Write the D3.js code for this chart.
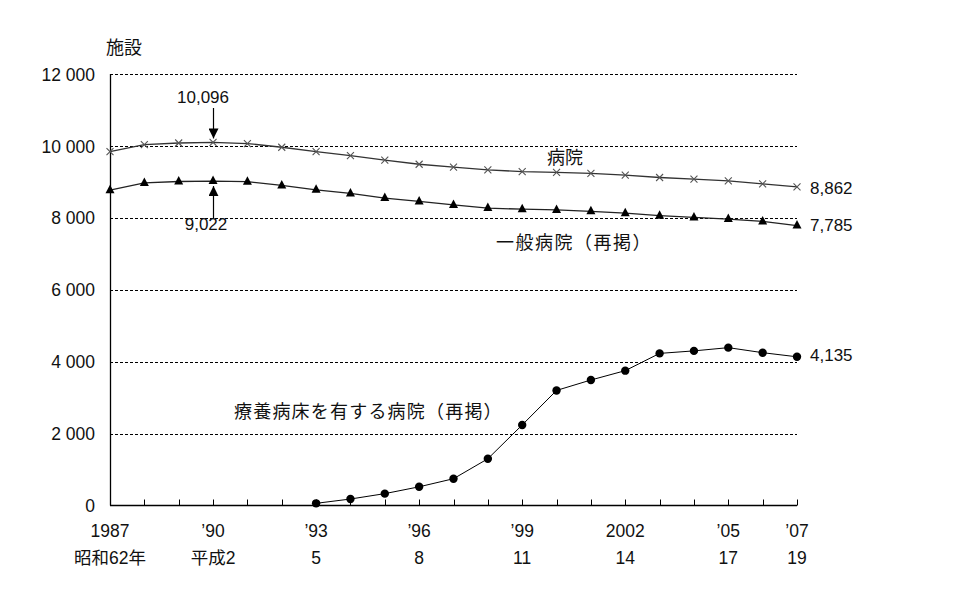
<!DOCTYPE html>
<html><head><meta charset="utf-8">
<script src="https://cdn.jsdelivr.net/npm/d3@7/dist/d3.min.js"></script>
<style>
html,body{margin:0;padding:0;background:#fff;}
text{font-family:"Liberation Sans","Noto Sans CJK JP",sans-serif;fill:#111;}
.jp{font-family:"Noto Sans CJK JP",sans-serif;}
</style></head>
<body>
<svg id="chart" width="972" height="606"></svg>
<script>
const years = d3.range(1987, 2008);
const hospitals = [9841,10034,10081,10096,10066,9963,9844,9731,9606,9490,9413,9333,9286,9266,9239,9187,9122,9077,9026,8943,8862];
const generalHospitals = [8770,8970,9010,9022,9005,8900,8780,8680,8550,8455,8360,8270,8240,8220,8180,8130,8060,8010,7965,7900,7785];
const longTermYears = d3.range(1993, 2008);
const longTermHospitals = [60,180,330,520,745,1300,2240,3200,3490,3750,4230,4300,4390,4250,4135];
const yTicks = [0,2000,4000,6000,8000,10000,12000];
const xLabelYears = [1987,1990,1993,1996,1999,2002,2005,2007];
const xLabels1 = ["1987","’90","’93","’96","’99","2002","’05","’07"];
const xLabels2 = ["昭和62年","平成2","5","8","11","14","17","19"];

const svg = d3.select("#chart");
const x = d3.scaleLinear().domain([1987,2007]).range([110,797]);
const y = d3.scaleLinear().domain([0,12000]).range([505.5,74]);
const FS = 17;

// gridlines
svg.append("g").selectAll("line").data(yTicks.filter(d=>d>0)).join("line")
  .attr("x1", x(1987)).attr("x2", x(2007))
  .attr("y1", d=>Math.round(y(d))+0.5).attr("y2", d=>Math.round(y(d))+0.5)
  .attr("stroke","#000").attr("stroke-width",1).attr("stroke-dasharray","3,2");

// y axis labels
const yAxis = d3.axisLeft(y).tickValues(yTicks).tickSize(0).tickPadding(0)
  .tickFormat(d => d >= 1000 ? Math.floor(d/1000) + " " + String(d%1000).padStart(3,"0") : String(d));
const gy = svg.append("g").attr("transform","translate(95,0)").call(yAxis);
gy.select(".domain").remove();
gy.selectAll("text").attr("font-size",17.5).attr("font-family",null).attr("fill",null).attr("dy","0.35em");

// axis lines
svg.append("line").attr("x1",x(1987)+0.5).attr("x2",x(1987)+0.5).attr("y1",y(12000)).attr("y2",y(0))
  .attr("stroke","#000").attr("stroke-width",1.3);
svg.append("line").attr("x1",x(1987)).attr("x2",x(2007)).attr("y1",y(0)).attr("y2",y(0))
  .attr("stroke","#000").attr("stroke-width",1.3);
// x ticks upward
svg.append("g").selectAll("line").data(years.slice(1)).join("line")
  .attr("x1",d=>Math.round(x(d))+0.5).attr("x2",d=>Math.round(x(d))+0.5)
  .attr("y1",y(0)).attr("y2",y(0)-6).attr("stroke","#000").attr("stroke-width",1);

// x labels
svg.append("g").selectAll("text").data(xLabelYears).join("text")
  .attr("x",d=>x(d)).attr("y",537).attr("text-anchor","middle").attr("font-size",17.5)
  .text((d,i)=>xLabels1[i]);
svg.append("g").selectAll("text").data(xLabelYears).join("text")
  .attr("x",d=>x(d)).attr("y",564).attr("text-anchor","middle").attr("font-size",17.5)
  .text((d,i)=>xLabels2[i]);

// unit
svg.append("text").attr("class","jp").attr("x",106).attr("y",54).attr("font-size",18).text("施設");

const line = d3.line().x(d=>x(d[0])).y(d=>y(d[1]));

// hospitals
const hData = years.map((yr,i)=>[yr,hospitals[i]]);
svg.append("path").datum(hData).attr("d",line).attr("fill","none").attr("stroke","#333").attr("stroke-width",1.3);
svg.append("g").selectAll("path").data(hData).join("path")
  .attr("d",d=>{const cx=x(d[0]),cy=y(d[1]),r=3.5;return `M${cx-r},${cy-r}L${cx+r},${cy+r}M${cx-r},${cy+r}L${cx+r},${cy-r}`;})
  .attr("stroke","#555").attr("stroke-width",1.1).attr("fill","none");

// general hospitals
const gData = years.map((yr,i)=>[yr,generalHospitals[i]]);
svg.append("path").datum(gData).attr("d",line).attr("fill","none").attr("stroke","#222").attr("stroke-width",1.3);
svg.append("g").selectAll("path").data(gData).join("path")
  .attr("d",d=>{const cx=x(d[0]),cy=y(d[1]);return `M${cx},${cy-5.5}L${cx+4.5},${cy+3}L${cx-4.5},${cy+3}Z`;})
  .attr("fill","#000");

// long-term care
const lData = longTermYears.map((yr,i)=>[yr,longTermHospitals[i]]);
svg.append("path").datum(lData).attr("d",line).attr("fill","none").attr("stroke","#000").attr("stroke-width",1);
svg.append("g").selectAll("circle").data(lData).join("circle")
  .attr("cx",d=>x(d[0])).attr("cy",d=>y(d[1])).attr("r",4.2).attr("fill","#000");

// arrows
const defs = svg.append("defs");
defs.append("marker").attr("id","ah").attr("viewBox","0 0 10 10").attr("refX",10).attr("refY",5)
  .attr("markerWidth",10).attr("markerHeight",10).attr("markerUnits","userSpaceOnUse").attr("orient","auto")
  .append("path").attr("d","M0,0L10,5L0,10Z").attr("fill","#000");
const ax = Math.round(x(1990))+0.5;
svg.append("line").attr("x1",ax).attr("x2",ax).attr("y1",108).attr("y2",y(10096)-4)
  .attr("stroke","#000").attr("stroke-width",1.2).attr("marker-end","url(#ah)");
svg.append("line").attr("x1",ax).attr("x2",ax).attr("y1",218).attr("y2",y(9022)+5)
  .attr("stroke","#000").attr("stroke-width",1.2).attr("marker-end","url(#ah)");

svg.append("text").attr("x",203).attr("y",103).attr("text-anchor","middle").attr("font-size",FS).text("10,096");
svg.append("text").attr("x",206).attr("y",230).attr("text-anchor","middle").attr("font-size",FS).text("9,022");

// series labels
svg.append("text").attr("class","jp").attr("x",547).attr("y",164).attr("font-size",18).text("病院");
svg.append("text").attr("class","jp").attr("x",496).attr("y",249).attr("font-size",18).attr("letter-spacing",1.5).text("一般病院（再掲）");
svg.append("text").attr("class","jp").attr("x",234).attr("y",418).attr("font-size",18).attr("letter-spacing",1.2).text("療養病床を有する病院（再掲）");

// end labels
svg.append("text").attr("x",810).attr("y",194).attr("font-size",FS).text("8,862");
svg.append("text").attr("x",810).attr("y",231).attr("font-size",FS).text("7,785");
svg.append("text").attr("x",810).attr("y",361).attr("font-size",FS).text("4,135");
</script>
</body></html>
